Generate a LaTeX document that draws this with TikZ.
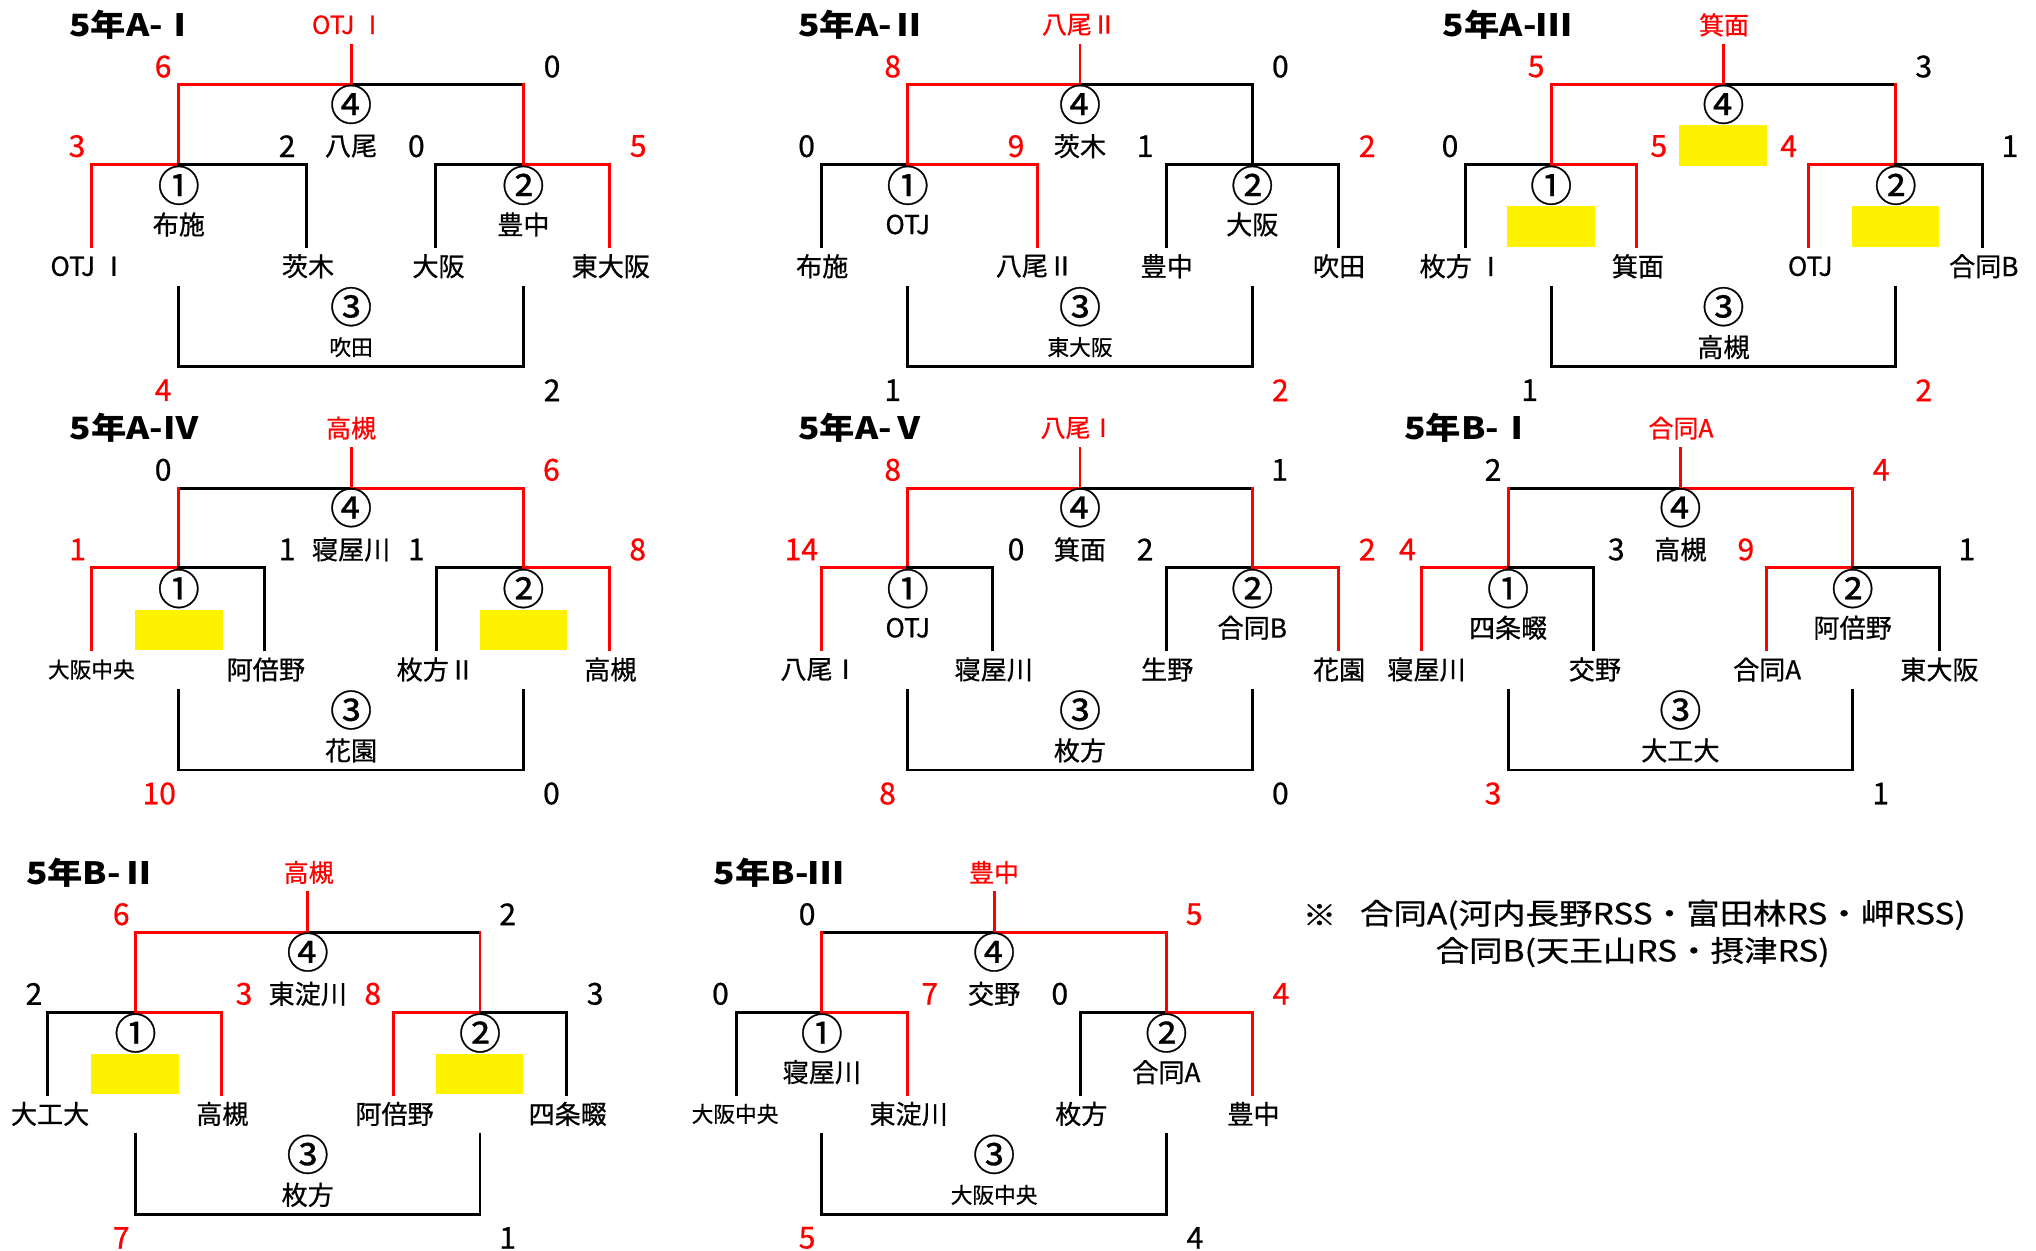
\documentclass[tikz,border=0pt]{standalone}
\usepackage{fontspec}
\setmainfont{Noto Sans CJK JP}[FakeBold=0.7]
\newfontfamily\ttlfont{Noto Sans CJK JP}[FakeStretch=1.15]
\newfontfamily\notefont{Noto Sans CJK JP}[FakeStretch=1.15, FakeBold=0.7]
\tikzset{
  ln/.style={line width=1.45pt, line cap=rect, line join=miter},
  tx/.style={inner sep=0pt, outer sep=0pt},
  ttl/.style={tx, anchor=west, font=\ttlfont\bfseries\fontsize{15.3pt}{16pt}\selectfont},
  win/.style={tx, text=red, font=\fontsize{12.4pt}{13pt}\selectfont},
  nb/.style={tx, font=\fontsize{15pt}{16pt}\selectfont},
  nr/.style={nb, text=red},
  cn/.style={tx, font=\fontsize{21pt}{22pt}\selectfont},
  ven/.style={tx, font=\fontsize{13pt}{14pt}\selectfont},
  vens/.style={tx, font=\fontsize{10.8pt}{11pt}\selectfont},
  note/.style={tx, anchor=west, font=\notefont\fontsize{14.5pt}{15pt}\selectfont},
}
% geometry: prefix, cx, y0, L, L1, R1, R
\newcommand\bgeom[7]{%
  \coordinate (#1-top) at (#2,#3+34.5);
  \coordinate (#1-c) at (#2,#3+65);
  \coordinate (#1-m1t) at (#2-132,#3+65);
  \coordinate (#1-m2t) at (#2+132,#3+65);
  \coordinate (#1-m1) at (#2-132,#3+126);
  \coordinate (#1-m2) at (#2+132,#3+126);
  \coordinate (#1-Lb) at (#4,#3+189);
  \coordinate (#1-L1b) at (#5,#3+189);
  \coordinate (#1-R1b) at (#6,#3+189);
  \coordinate (#1-Rb) at (#7,#3+189);
  \coordinate (#1-b1) at (#2-132,#3+220);
  \coordinate (#1-b2) at (#2+132,#3+220);
  \coordinate (#1-b1d) at (#2-132,#3+281);
  \coordinate (#1-b2d) at (#2+132,#3+281);
}
% colours: prefix, topL, topR, vM1, vM2, t1, t2, t3, t4
\newcommand\bdraw[9]{%
  \draw[ln,#2] (#1-c) -- (#1-m1t);
  \draw[ln,#3] (#1-c) -- (#1-m2t);
  \draw[ln,#4] (#1-m1t) -- (#1-m1);
  \draw[ln,#5] (#1-m2t) -- (#1-m2);
  \draw[ln,#6] (#1-m1) -| (#1-Lb);
  \draw[ln,#7] (#1-m1) -| (#1-L1b);
  \draw[ln,#8] (#1-m2) -| (#1-R1b);
  \draw[ln,#9] (#1-m2) -| (#1-Rb);
  \draw[ln,red] (#1-top) -- (#1-c);
  \draw[ln,black] (#1-b1) -- (#1-b1d) -- (#1-b2d) -- (#1-b2);
}
\begin{document}
\begin{tikzpicture}[x=0.65pt,y=-0.65pt]
\useasboundingbox (0,0) rectangle (1560,958.5);

% ---------- geometry ----------
\bgeom{a1}{269}{0}{70}{235}{334}{467}
\bgeom{a2}{827.5}{0}{629.4}{794.8}{893.6}{1025.6}
\bgeom{a3}{1320.5}{0}{1122.8}{1254}{1386}{1519}
\bgeom{a4}{269}{309}{70}{203}{334.7}{467}
\bgeom{a5}{827.5}{309}{629.4}{760.7}{893.6}{1025.6}
\bgeom{b1}{1287.5}{309}{1089}{1220.6}{1353.3}{1485.8}
\bgeom{b2}{235.8}{649.5}{36.7}{169.7}{301.6}{434.2}
\bgeom{b3}{761.7}{649.5}{564.2}{695.5}{828.1}{959.4}

% ---------- yellow boxes ----------
\fill[yellow] (1286.8,95.8) rectangle (1354,127);
\fill[yellow] (1155,158) rectangle (1222,189);
\fill[yellow] (1419,158) rectangle (1486,189);
\fill[yellow] (103.5,467) rectangle (170.5,498);
\fill[yellow] (367.5,467) rectangle (434.5,498);
\fill[yellow] (70,807.5) rectangle (137,838.5);
\fill[yellow] (334,807.5) rectangle (401,838.5);

% ---------- lines ----------
\bdraw{a1}{red}{black}{red}{red}{red}{black}{black}{red}
\bdraw{a2}{red}{black}{red}{black}{black}{red}{black}{black}
\bdraw{a3}{red}{black}{red}{red}{black}{red}{red}{black}
\bdraw{a4}{black}{red}{red}{red}{red}{black}{black}{red}
\bdraw{a5}{red}{black}{red}{red}{red}{black}{black}{red}
\bdraw{b1}{black}{red}{red}{red}{red}{black}{red}{black}
\bdraw{b2}{red}{black}{red}{red}{black}{red}{red}{black}
\bdraw{b3}{black}{red}{red}{red}{black}{red}{black}{red}

% ---------- 5年A-I ----------
\node[ttl] (a1-ttl) at (53,19) {5年A-Ⅰ};
\node[win] (a1-win) at (267,19) {OTJ Ⅰ};
\node[nr] (a1-s1) at (125,51) {6};
\node[nb] (a1-s2) at (423,51) {0};
\node[cn] (a1-k4) at (269,80) {④};
\node[ven] (a1-v4) at (269,112) {八尾};
\node[nr] (a1-s3) at (59,112) {3};
\node[nb] (a1-s4) at (220,112) {2};
\node[nb] (a1-s5) at (319,112) {0};
\node[nr] (a1-s6) at (489,112) {5};
\node[cn] (a1-k1) at (137,142) {①};
\node[cn] (a1-k2) at (401,142) {②};
\node[ven] (a1-v1) at (137,172) {布施};
\node[ven] (a1-v2) at (401,172) {豊中};
\node[ven] (a1-t1) at (68,204) {OTJ Ⅰ};
\node[ven] (a1-t2) at (236,204) {茨木};
\node[ven] (a1-t3) at (336,204) {大阪};
\node[ven] (a1-t4) at (468,204) {東大阪};
\node[cn] (a1-k3) at (269,235) {③};
\node[vens] (a1-v3) at (269,266) {吹田};
\node[nr] (a1-s7) at (125,299) {4};
\node[nb] (a1-s8) at (423,299) {2};

% ---------- 5年A-II ----------
\node[ttl] (a2-ttl) at (611.6,19) {5年A-Ⅱ};
\node[win] (a2-win) at (827,19) {八尾Ⅱ};
\node[nr] (a2-s1) at (684,51) {8};
\node[nb] (a2-s2) at (981,51) {0};
\node[cn] (a2-k4) at (827.5,80) {④};
\node[ven] (a2-v4) at (827.5,112) {茨木};
\node[nb] (a2-s3) at (618,112) {0};
\node[nr] (a2-s4) at (778.5,112) {9};
\node[nb] (a2-s5) at (877.4,112) {1};
\node[nr] (a2-s6) at (1047.6,112) {2};
\node[cn] (a2-k1) at (695.5,142) {①};
\node[cn] (a2-k2) at (959.5,142) {②};
\node[ven] (a2-v1) at (695.5,172) {OTJ};
\node[ven] (a2-v2) at (959.5,172) {大阪};
\node[ven] (a2-t1) at (630,204) {布施};
\node[ven] (a2-t2) at (793,204) {八尾Ⅱ};
\node[ven] (a2-t3) at (894,204) {豊中};
\node[ven] (a2-t4) at (1026,204) {吹田};
\node[cn] (a2-k3) at (827.5,235) {③};
\node[vens] (a2-v3) at (827.5,266) {東大阪};
\node[nb] (a2-s7) at (684,299) {1};
\node[nr] (a2-s8) at (981,299) {2};

% ---------- 5年A-III ----------
\node[ttl] (a3-ttl) at (1105.6,19) {5年A-Ⅲ};
\node[win] (a3-win) at (1321,19) {箕面};
\node[nr] (a3-s1) at (1177,51) {5};
\node[nb] (a3-s2) at (1474,51) {3};
\node[cn] (a3-k4) at (1320.5,80) {④};
\node[nb] (a3-s3) at (1111,112) {0};
\node[nr] (a3-s4) at (1271,112) {5};
\node[nr] (a3-s5) at (1370.5,112) {4};
\node[nb] (a3-s6) at (1540,112) {1};
\node[cn] (a3-k1) at (1188.5,142) {①};
\node[cn] (a3-k2) at (1452.5,142) {②};
\node[ven] (a3-t1) at (1120,204) {枚方 Ⅰ};
\node[ven] (a3-t2) at (1255,204) {箕面};
\node[ven] (a3-t3) at (1387,204) {OTJ};
\node[ven] (a3-t4) at (1520,204) {合同B};
\node[cn] (a3-k3) at (1320.5,235) {③};
\node[ven] (a3-v3) at (1320.5,266) {高槻};
\node[nb] (a3-s7) at (1172,299) {1};
\node[nr] (a3-s8) at (1474,299) {2};

% ---------- 5年A-IV ----------
\node[ttl] (a4-ttl) at (53.4,328) {5年A-Ⅳ};
\node[win] (a4-win) at (269,328) {高槻};
\node[nb] (a4-s1) at (125,360) {0};
\node[nr] (a4-s2) at (422.5,360) {6};
\node[cn] (a4-k4) at (269,389) {④};
\node[ven] (a4-v4) at (269,421) {寝屋川};
\node[nr] (a4-s3) at (59.5,421) {1};
\node[nb] (a4-s4) at (220,421) {1};
\node[nb] (a4-s5) at (319,421) {1};
\node[nr] (a4-s6) at (488.6,421) {8};
\node[cn] (a4-k1) at (137,451) {①};
\node[cn] (a4-k2) at (401,451) {②};
\node[vens] (a4-t1) at (70,513) {大阪中央};
\node[ven] (a4-t2) at (203.7,513) {阿倍野};
\node[ven] (a4-t3) at (334,513) {枚方Ⅱ};
\node[ven] (a4-t4) at (467.6,513) {高槻};
\node[cn] (a4-k3) at (269,544) {③};
\node[ven] (a4-v3) at (269,575) {花園};
\node[nr] (a4-s7) at (122,608) {10};
\node[nb] (a4-s8) at (422.5,608) {0};

% ---------- 5年A-V ----------
\node[ttl] (a5-ttl) at (611.6,328) {5年A-Ⅴ};
\node[win] (a5-win) at (826,328) {八尾Ⅰ};
\node[nr] (a5-s1) at (684,360) {8};
\node[nb] (a5-s2) at (980.5,360) {1};
\node[cn] (a5-k4) at (827.5,389) {④};
\node[ven] (a5-v4) at (827.5,421) {箕面};
\node[nr] (a5-s3) at (614,421) {14};
\node[nb] (a5-s4) at (778.5,421) {0};
\node[nb] (a5-s5) at (877.4,421) {2};
\node[nr] (a5-s6) at (1047.6,421) {2};
\node[cn] (a5-k1) at (695.5,451) {①};
\node[cn] (a5-k2) at (959.5,451) {②};
\node[ven] (a5-v1) at (695.5,481) {OTJ};
\node[ven] (a5-v2) at (959.5,481) {合同B};
\node[ven] (a5-t1) at (628,513) {八尾Ⅰ};
\node[ven] (a5-t2) at (761.4,513) {寝屋川};
\node[ven] (a5-t3) at (894.3,513) {生野};
\node[ven] (a5-t4) at (1026,513) {花園};
\node[cn] (a5-k3) at (827.5,544) {③};
\node[ven] (a5-v3) at (827.5,575) {枚方};
\node[nr] (a5-s7) at (680,608) {8};
\node[nb] (a5-s8) at (981,608) {0};

% ---------- 5年B-I ----------
\node[ttl] (b1-ttl) at (1076,328) {5年B-Ⅰ};
\node[win] (b1-win) at (1288,328) {合同A};
\node[nb] (b1-s1) at (1144,360) {2};
\node[nr] (b1-s2) at (1441.4,360) {4};
\node[cn] (b1-k4) at (1287.5,389) {④};
\node[ven] (b1-v4) at (1287.5,421) {高槻};
\node[nr] (b1-s3) at (1078.4,421) {4};
\node[nb] (b1-s4) at (1238.4,421) {3};
\node[nr] (b1-s5) at (1337.7,421) {9};
\node[nb] (b1-s6) at (1507,421) {1};
\node[cn] (b1-k1) at (1155.5,451) {①};
\node[cn] (b1-k2) at (1419.5,451) {②};
\node[ven] (b1-v1) at (1155.5,481) {四条畷};
\node[ven] (b1-v2) at (1419.5,481) {阿倍野};
\node[ven] (b1-t1) at (1093,513) {寝屋川};
\node[ven] (b1-t2) at (1222,513) {交野};
\node[ven] (b1-t3) at (1354,513) {合同A};
\node[ven] (b1-t4) at (1486,513) {東大阪};
\node[cn] (b1-k3) at (1287.5,544) {③};
\node[ven] (b1-v3) at (1287.5,575) {大工大};
\node[nr] (b1-s7) at (1144,608) {3};
\node[nb] (b1-s8) at (1441,608) {1};

% ---------- 5年B-II ----------
\node[ttl] (b2-ttl) at (20,668.5) {5年B-Ⅱ};
\node[win] (b2-win) at (236.5,668.5) {高槻};
\node[nr] (b2-s1) at (92.9,700.5) {6};
\node[nb] (b2-s2) at (389,700.5) {2};
\node[cn] (b2-k4) at (235.8,729.5) {④};
\node[ven] (b2-v4) at (235.8,761.5) {東淀川};
\node[nb] (b2-s3) at (26,761.5) {2};
\node[nr] (b2-s4) at (187,761.5) {3};
\node[nr] (b2-s5) at (285.6,761.5) {8};
\node[nb] (b2-s6) at (456,761.5) {3};
\node[cn] (b2-k1) at (103.8,791.5) {①};
\node[cn] (b2-k2) at (367.8,791.5) {②};
\node[ven] (b2-t1) at (38.4,853.5) {大工大};
\node[ven] (b2-t2) at (170.3,853.5) {高槻};
\node[ven] (b2-t3) at (302.3,853.5) {阿倍野};
\node[ven] (b2-t4) at (435,853.5) {四条畷};
\node[cn] (b2-k3) at (235.8,884.5) {③};
\node[ven] (b2-v3) at (235.8,915.5) {枚方};
\node[nr] (b2-s7) at (92.9,948.5) {7};
\node[nb] (b2-s8) at (389,948.5) {1};

% ---------- 5年B-III ----------
\node[ttl] (b3-ttl) at (547,668.5) {5年B-Ⅲ};
\node[win] (b3-win) at (761.6,668.5) {豊中};
\node[nb] (b3-s1) at (618.4,700.5) {0};
\node[nr] (b3-s2) at (915,700.5) {5};
\node[cn] (b3-k4) at (761.7,729.5) {④};
\node[ven] (b3-v4) at (761.7,761.5) {交野};
\node[nb] (b3-s3) at (552,761.5) {0};
\node[nr] (b3-s4) at (712.4,761.5) {7};
\node[nb] (b3-s5) at (812,761.5) {0};
\node[nr] (b3-s6) at (981.5,761.5) {4};
\node[cn] (b3-k1) at (629.7,791.5) {①};
\node[cn] (b3-k2) at (893.7,791.5) {②};
\node[ven] (b3-v1) at (629.7,821.5) {寝屋川};
\node[ven] (b3-v2) at (893.7,821.5) {合同A};
\node[vens] (b3-t1) at (563.2,853.5) {大阪中央};
\node[ven] (b3-t2) at (696.2,853.5) {東淀川};
\node[ven] (b3-t3) at (828.5,853.5) {枚方};
\node[ven] (b3-t4) at (960.4,853.5) {豊中};
\node[cn] (b3-k3) at (761.7,884.5) {③};
\node[vens] (b3-v3) at (761.7,915.5) {大阪中央};
\node[nr] (b3-s7) at (618.4,948.5) {5};
\node[nb] (b3-s8) at (915.6,948.5) {4};

% ---------- note ----------
\node[note, anchor=center] (n0) at (1011,701) {※};
\node[note] (n1) at (1042,701) {合同A(河内長野RSS・富田林RS・岬RSS)};
\node[note] (n2) at (1100,729.5) {合同B(天王山RS・摂津RS)};
\end{tikzpicture}
\end{document}
